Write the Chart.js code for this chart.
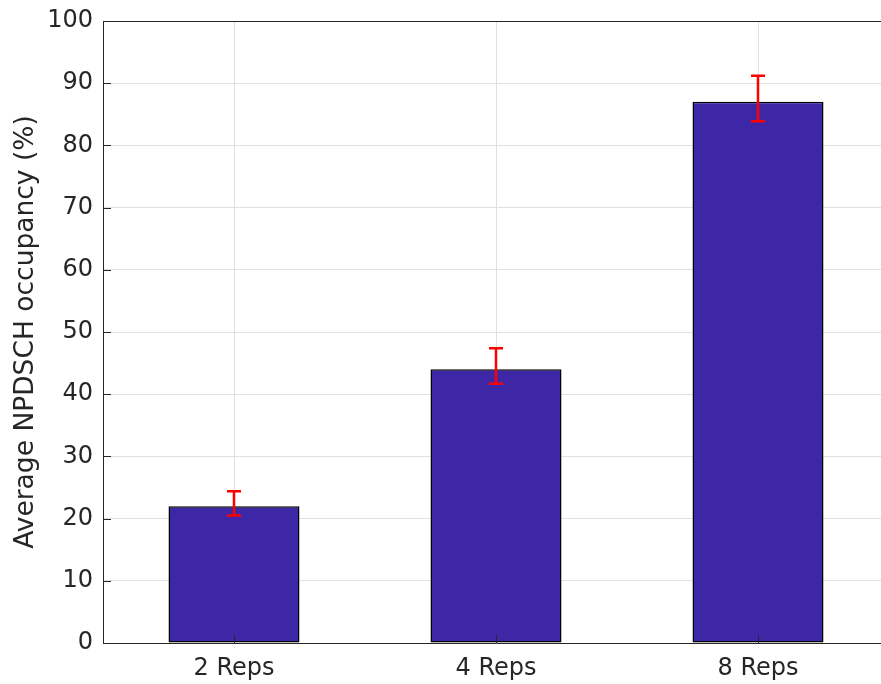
<!DOCTYPE html>
<html>
<head>
<meta charset="utf-8">
<title>NPDSCH occupancy</title>
<script src="https://cdn.jsdelivr.net/npm/chart.js@4/dist/chart.umd.min.js"></script>
<style>
  html, body { margin: 0; padding: 0; background: #fff; overflow: hidden; }
</style>
</head>
<body>
<canvas id="occCanvas" width="890" height="684"></canvas>
<script>
// repetition levels and measured occupancy (%)
var repLabels = ['2 Reps', '4 Reps', '8 Reps'];
var occupancy = [22, 44, 87];
var errLow = [20.5, 41.7, 83.9];
var errHigh = [24.4, 47.4, 91.2];
var yTicks = [0, 10, 20, 30, 40, 50, 60, 70, 80, 90, 100];

var axisColor = '#262626';

// red error bars + inner tick marks + top box line
var errorBars = {
    id: 'errorBars',
    afterDatasetsDraw: function (chart) {
        var ctx = chart.ctx;
        var xs = chart.scales.x, ys = chart.scales.y;
        var area = chart.chartArea;
        ctx.save();

        // inner ticks
        ctx.strokeStyle = axisColor;
        ctx.lineWidth = 1;
        ctx.beginPath();
        for (var i = 0; i < repLabels.length; i++) {
            var tx = Math.round(xs.getPixelForValue(i)) + 0.5;
            ctx.moveTo(tx, area.bottom);
            ctx.lineTo(tx, area.bottom - 8);
        }
        yTicks.forEach(function (v) {
            var ty = Math.round(ys.getPixelForValue(v)) + 0.5;
            ctx.moveTo(area.left, ty);
            ctx.lineTo(area.left + 8, ty);
        });
        ctx.stroke();

        // top border of the box
        ctx.beginPath();
        ctx.moveTo(area.left, Math.round(area.top) + 0.5);
        ctx.lineTo(area.right, Math.round(area.top) + 0.5);
        ctx.stroke();

        ctx.strokeStyle = '#ff0000';
        ctx.lineWidth = 2.5;
        for (var j = 0; j < occupancy.length; j++) {
            var x = xs.getPixelForValue(j);
            var yHi = ys.getPixelForValue(errHigh[j]);
            var yLo = ys.getPixelForValue(errLow[j]);
            ctx.beginPath();
            ctx.moveTo(x, yHi);
            ctx.lineTo(x, yLo);
            ctx.moveTo(x - 7, yHi);
            ctx.lineTo(x + 7, yHi);
            ctx.moveTo(x - 7, yLo);
            ctx.lineTo(x + 7, yLo);
            ctx.stroke();
        }
        ctx.restore();
    }
};

var chartdata = {
    labels: repLabels,
    datasets: [
        {
            label: 'Occupancy',
            backgroundColor: '#3d27a7',
            borderColor: '#000000',
            borderWidth: 1.5,
            borderSkipped: false,
            barPercentage: 0.5,
            categoryPercentage: 1.0,
            data: occupancy
        }
    ]
};

var barGraph = new Chart(document.getElementById('occCanvas'), {
    type: 'bar',
    data: chartdata,
    plugins: [errorBars],
    options: {
        responsive: false,
        animation: false,
        layout: { padding: { top: 21, right: 1, left: 0, bottom: 0 } },
        plugins: {
            legend: { display: false },
            tooltip: { enabled: false }
        },
        scales: {
            x: {
                offset: true,
                grid: { offset: false, color: '#e0e0e0', drawTicks: false },
                border: { color: axisColor, width: 1 },
                ticks: {
                    color: axisColor,
                    padding: 11,
                    font: { family: 'DejaVu Sans', size: 24 }
                },
                afterFit: function (scale) { scale.height = 41; }
            },
            y: {
                min: 0,
                max: 100,
                grid: { color: '#e0e0e0', drawTicks: false },
                border: { color: axisColor, width: 1 },
                afterBuildTicks: function (scale) {
                    scale.ticks = yTicks.map(function (v) { return { value: v }; });
                },
                ticks: {
                    color: axisColor,
                    padding: 10,
                    font: { family: 'DejaVu Sans', size: 24 }
                },
                title: {
                    display: true,
                    text: 'Average NPDSCH occupancy (%)',
                    color: axisColor,
                    padding: { top: 10, bottom: 0 },
                    font: { family: 'DejaVu Sans', size: 26.5 }
                },
                afterFit: function (scale) {
                    scale.width = 103;
                    scale.paddingTop = 0;
                    scale.paddingBottom = 0;
                }
            }
        }
    }
});
</script>
</body>
</html>
